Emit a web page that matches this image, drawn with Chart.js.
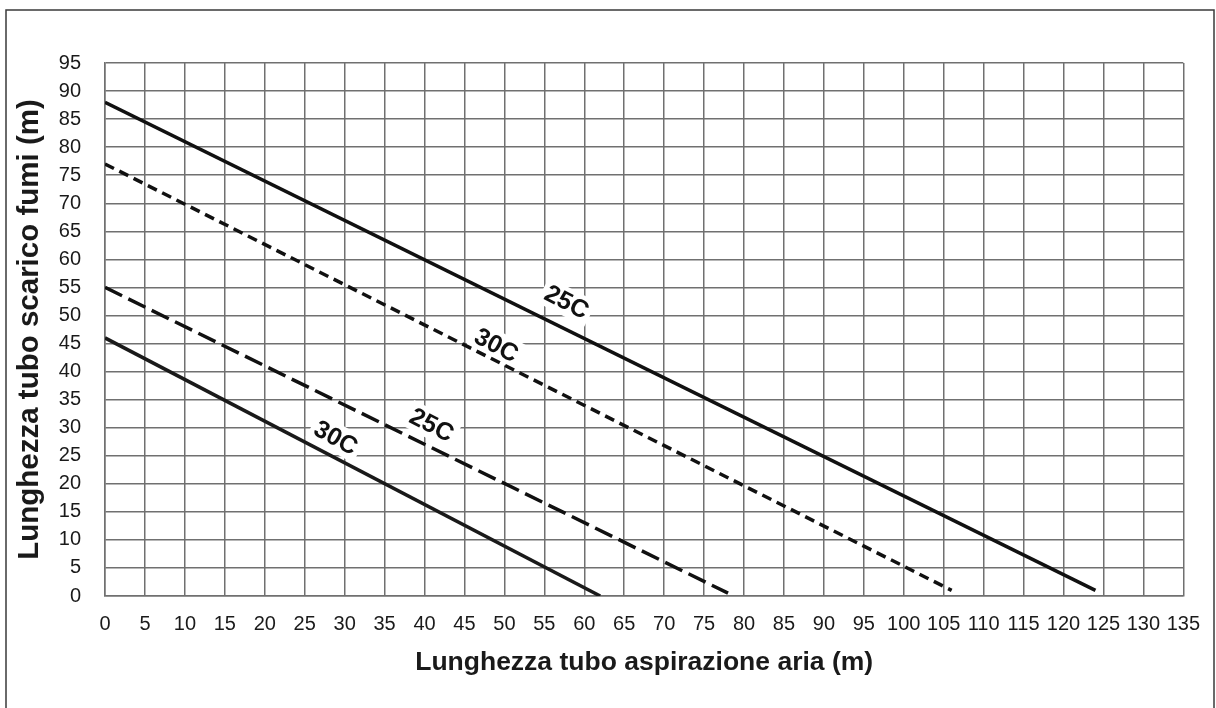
<!DOCTYPE html>
<html>
<head>
<meta charset="utf-8">
<script src="https://cdn.jsdelivr.net/npm/chart.js@4.4.1/dist/chart.umd.min.js"></script>
<style>
  html, body { margin: 0; padding: 0; background: #fff; }
  canvas { display: block; }
</style>
</head>
<body>
<canvas id="chart" width="1216" height="708"></canvas>
<script>
// straight lines: start and end points
const xSolid25 = [0, 124];
const ySolid25 = [88, 1];
const xDash30 = [0, 106];
const yDash30 = [77, 1];
const xLongDash25 = [0, 78];
const yLongDash25 = [55, 0.5];
const xFine30 = [0, 62];
const yFine30 = [46, 0];

// curve labels (text, x, y in data units)
const labelTexts = ['25C', '30C', '25C', '30C'];
const labelX = [57.8, 49, 40.9, 28.9];
const labelY = [52.4, 44.7, 30.5, 28.2];

const FONT = "'Liberation Sans', Arial, Helvetica, sans-serif";

function pts(xs, ys) {
    return xs.map((x, i) => ({ x: x, y: ys[i] }));
}

const seriesX = [xSolid25, xDash30, xLongDash25, xFine30];
const seriesY = [ySolid25, yDash30, yLongDash25, yFine30];

const frame = {
    id: 'frame',
    afterDraw(chart) {
        const ctx = chart.ctx;
        ctx.save();
        ctx.strokeStyle = '#3a3a3a';
        ctx.lineWidth = 1.5;
        ctx.strokeRect(6, 10, 1208, 720);
        ctx.restore();
    }
};

const curveLabels = {
    id: 'curveLabels',
    beforeDatasetsDraw(chart) {
        const ctx = chart.ctx;
        const xs = chart.scales.x, ys = chart.scales.y;
        ctx.save();
        ctx.font = 'bold 25px ' + FONT;
        ctx.textAlign = 'center';
        ctx.textBaseline = 'middle';
        labelTexts.forEach((t, i) => {
            const sx = seriesX[i], sy = seriesY[i];
            const ang = Math.atan2(ys.getPixelForValue(sy[1]) - ys.getPixelForValue(sy[0]),
                                   xs.getPixelForValue(sx[1]) - xs.getPixelForValue(sx[0]));
            const px = xs.getPixelForValue(labelX[i]);
            const py = ys.getPixelForValue(labelY[i]);
            const w = ctx.measureText(t).width + 8;
            ctx.save();
            ctx.translate(px, py);
            ctx.rotate(ang + 0.02);
            ctx.fillStyle = '#fff';
            ctx.fillRect(-w / 2, -14, w, 28);
            ctx.fillStyle = '#111';
            ctx.fillText(t, 0, 1);
            ctx.restore();
        });
        ctx.restore();
    }
};

new Chart(document.getElementById('chart').getContext('2d'), {
    type: 'line',
    data: {
        datasets: [{
            label: '25C',
            data: pts(xSolid25, ySolid25),
            borderColor: '#111',
            borderWidth: 3.5
        }, {
            label: '30C',
            data: pts(xDash30, yDash30),
            borderColor: '#111',
            borderWidth: 3.5,
            borderDash: [10, 6]
        }, {
            label: '25C',
            data: pts(xLongDash25, yLongDash25),
            borderColor: '#111',
            borderWidth: 3.5,
            borderDash: [19, 7]
        }, {
            label: '30C',
            data: pts(xFine30, yFine30),
            borderColor: '#1a1a1a',
            borderWidth: 3.5
        }]
    },
    plugins: [frame, curveLabels],
    options: {
        responsive: false,
        animation: false,
        elements: { point: { radius: 0 }, line: { tension: 0 } },
        layout: { padding: { left: 0, top: 63, right: 32, bottom: 0 } },
        plugins: {
            legend: { display: false },
            tooltip: { enabled: false }
        },
        scales: {
            x: {
                type: 'linear',
                min: 0,
                max: 135,
                afterFit: s => { s.height = 112; },
                ticks: {
                    stepSize: 5,
                    padding: 16,
                    color: '#1a1a1a',
                    font: { family: FONT, size: 20 }
                },
                grid: { color: '#707070', lineWidth: 1.5, drawTicks: false },
                border: { color: '#707070', width: 1.5 },
                title: {
                    display: true,
                    text: 'Lunghezza tubo aspirazione aria (m)',
                    color: '#1a1a1a',
                    font: { family: FONT, size: 26.5, weight: 'bold' },
                    padding: { top: 0, bottom: 29 }
                }
            },
            y: {
                type: 'linear',
                min: 0,
                max: 95,
                afterFit: s => { s.width = 105; },
                ticks: {
                    stepSize: 5,
                    padding: 24,
                    color: '#1a1a1a',
                    font: { family: FONT, size: 20 }
                },
                grid: { color: '#707070', lineWidth: 1.5, drawTicks: false },
                border: { color: '#707070', width: 1.5 },
                title: {
                    display: true,
                    text: 'Lunghezza tubo scarico fumi (m)',
                    color: '#1a1a1a',
                    font: { family: FONT, size: 29.5, weight: 'bold' },
                    padding: { top: 12, bottom: 0 }
                }
            }
        }
    }
});
</script>
</body>
</html>
